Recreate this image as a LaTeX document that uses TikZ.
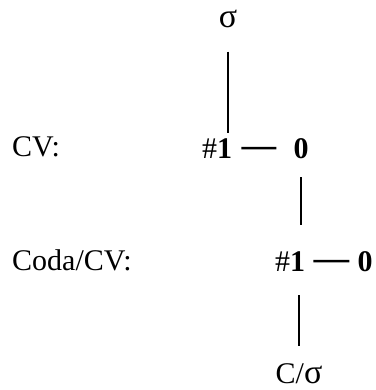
\documentclass[tikz,border=0pt]{standalone}
\usepackage{fontspec}
\setmainfont{Liberation Serif}
\usetikzlibrary{calc}

\newcommand{\sgm}{{\fontsize{34}{34}\selectfont σ}}

\begin{document}
\begin{tikzpicture}[x=1pt, y=-1pt,
    every node/.style={font=\fontsize{30}{35}\selectfont, inner sep=0pt},
    link/.style={line width=1.2pt},
    tie/.style={line width=2.4pt}]
    \useasboundingbox (0,0) rectangle (375,390);

    % row labels
    \node[anchor=base west] (labcv) at (12,157) {CV:};
    \node[anchor=base west] (labcoda) at (12,270) {Coda/CV:};

    % top
    \node[anchor=base] (sigma) at (228,28) {\sgm};

    % CV row
    \node[anchor=base west] (one1) at (202,158) {\#\textbf{1}};
    \node[anchor=base] (zero1) at (301,158) {\textbf{0}};

    % Coda/CV row
    \node[anchor=base west] (one2) at (275,271) {\#\textbf{1}};
    \node[anchor=base] (zero2) at (365,271) {\textbf{0}};

    % bottom
    \node[anchor=base] (cs) at (299,383) {C/\sgm};

    \draw[link, shorten <=23pt, shorten >=5pt] (sigma.south) -- (sigma.south |- one1.north);
    \draw[tie, shorten <=9pt, shorten >=17pt] (one1.east) -- (zero1.west);
    \draw[link, shorten <=19pt, shorten >=26pt] (zero1.south) -- (zero1.south |- one2.north);
    \draw[tie, shorten <=8pt, shorten >=8pt] (one2.east) -- (zero2.west);
    \draw[link, shorten <=24pt, shorten >=17pt] (one2.south -| cs.north) -- (cs.north);
\end{tikzpicture}
\end{document}
